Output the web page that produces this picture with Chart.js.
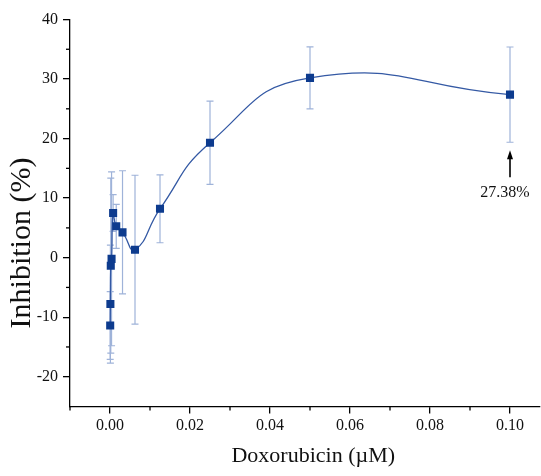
<!DOCTYPE html>
<html><head><meta charset="utf-8">
<script src="https://cdn.jsdelivr.net/npm/chart.js@4.4.0/dist/chart.umd.min.js"></script>
<style>html,body{margin:0;padding:0;background:#fff}</style>
</head><body>
<canvas id="c" width="541" height="476"></canvas>
<script>
const concentrations = [0.0000488, 0.0000977, 0.000195, 0.000391, 0.000781, 0.00156, 0.00313, 0.00625, 0.0125, 0.025, 0.05, 0.1];
const inhibition = [-11.4, -7.8, -1.35, -0.2, 7.5, 5.26, 4.25, 1.34, 8.2, 19.3, 30.2, 27.38];
const errors = [5.7, 9.9, 14.7, 14.6, 3.1, 3.7, 10.35, 12.5, 5.7, 7.0, 5.2, 8.0];
const xMajorTicks = [0, 0.02, 0.04, 0.06, 0.08, 0.10];
const xMinorTicks = [-0.01, 0.01, 0.03, 0.05, 0.07, 0.09];
const yMajorTicks = [-20, -10, 0, 10, 20, 30, 40];
const yMinorTicks = [-15, -5, 5, 15, 25, 35];
const annotationLabel = '27.38%';
const annotationX = 0.1;

const SERIF = "'Liberation Serif', 'DejaVu Serif', serif";

const errorBars = {
  id: 'errorBars',
  beforeDatasetsDraw(chart) {
    const {ctx, scales: {x, y}} = chart;
    ctx.save();
    ctx.strokeStyle = '#9fb3d9';
    ctx.lineWidth = 1.2;
    concentrations.forEach((c, i) => {
      const px = x.getPixelForValue(c);
      const t = y.getPixelForValue(inhibition[i] + errors[i]);
      const b = y.getPixelForValue(inhibition[i] - errors[i]);
      ctx.beginPath();
      ctx.moveTo(px, t); ctx.lineTo(px, b);
      ctx.moveTo(px - 3.5, t); ctx.lineTo(px + 3.5, t);
      ctx.moveTo(px - 3.5, b); ctx.lineTo(px + 3.5, b);
      ctx.stroke();
    });
    ctx.restore();
  }
};

const minorTicks = {
  id: 'minorTicks',
  afterDraw(chart) {
    const {ctx, chartArea, scales: {x, y}} = chart;
    ctx.save();
    ctx.strokeStyle = '#000';
    ctx.lineWidth = 1.3;
    xMinorTicks.forEach(v => {
      const px = x.getPixelForValue(v);
      ctx.beginPath(); ctx.moveTo(px, chartArea.bottom); ctx.lineTo(px, chartArea.bottom + 4); ctx.stroke();
    });
    yMinorTicks.forEach(v => {
      const py = y.getPixelForValue(v);
      ctx.beginPath(); ctx.moveTo(chartArea.left, py); ctx.lineTo(chartArea.left - 4, py); ctx.stroke();
    });
    ctx.restore();
  }
};

const annotation = {
  id: 'annotation',
  afterDatasetsDraw(chart) {
    const {ctx, scales: {x, y}} = chart;
    const idx = concentrations.indexOf(annotationX);
    const low = inhibition[idx] - errors[idx];
    const px = x.getPixelForValue(annotationX);
    const tip = y.getPixelForValue(low) + 8;
    const tail = tip + 27;
    ctx.save();
    ctx.strokeStyle = '#000';
    ctx.fillStyle = '#000';
    ctx.lineWidth = 1.6;
    ctx.beginPath(); ctx.moveTo(px, tail); ctx.lineTo(px, tip + 6); ctx.stroke();
    ctx.beginPath(); ctx.moveTo(px, tip); ctx.lineTo(px - 3, tip + 9); ctx.lineTo(px + 3, tip + 9); ctx.closePath(); ctx.fill();
    ctx.font = "16px " + SERIF;
    ctx.textAlign = 'center';
    ctx.textBaseline = 'middle';
    ctx.fillStyle = '#111';
    ctx.fillText(annotationLabel, px - 5, tail + 16);
    ctx.restore();
  }
};

new Chart(document.getElementById('c'), {
  type: 'scatter',
  data: {
    datasets: [{
      label: 'Inhibition',
      data: concentrations.map((c, i) => ({x: c, y: inhibition[i]})),
      showLine: true,
      tension: 0.5,
      borderColor: '#3459a4',
      borderWidth: 1.3,
      pointStyle: 'rect',
      pointRadius: 5.7,
      pointHoverRadius: 5.7,
      pointBackgroundColor: '#0d3b8e',
      pointBorderColor: '#0d3b8e',
      pointBorderWidth: 0
    }]
  },
  options: {
    responsive: false,
    animation: false,
    devicePixelRatio: 1,
    layout: {autoPadding: false, padding: {top: 19.5, right: 1, bottom: 0, left: 0}},
    plugins: {legend: {display: false}, tooltip: {enabled: false}},
    scales: {
      x: {
        type: 'linear',
        min: -0.01,
        max: 0.1075,
        afterBuildTicks: s => { s.ticks = xMajorTicks.map(v => ({value: v})); },
        afterFit: s => { s.height = 69.5; },
        ticks: {callback: v => v.toFixed(2), font: {family: SERIF, size: 16}, color: '#111', padding: 3, maxRotation: 0, autoSkip: false},
        grid: {drawOnChartArea: false, drawTicks: true, tickLength: 7, color: '#000', lineWidth: 1.3},
        border: {display: true, color: '#000', width: 1.3},
        title: {display: true, text: '   Doxorubicin (\u00B5M)', font: {family: SERIF, size: 22}, color: '#111', padding: {top: 0, bottom: 7}}
      },
      y: {
        type: 'linear',
        min: -25,
        max: 40,
        afterBuildTicks: s => { s.ticks = yMajorTicks.map(v => ({value: v})); },
        afterFit: s => { s.width = 70; },
        ticks: {callback: v => String(v), font: {family: SERIF, size: 16}, color: '#111', padding: 5, autoSkip: false},
        grid: {drawOnChartArea: false, drawTicks: true, tickLength: 7, color: '#000', lineWidth: 1.3},
        border: {display: true, color: '#000', width: 1.3},
        title: {display: true, text: 'Inhibition (%)        ', font: {family: SERIF, size: 30}, color: '#111', padding: {top: 4, bottom: 0}}
      }
    }
  },
  plugins: [errorBars, minorTicks, annotation]
});
</script>
</body></html>
